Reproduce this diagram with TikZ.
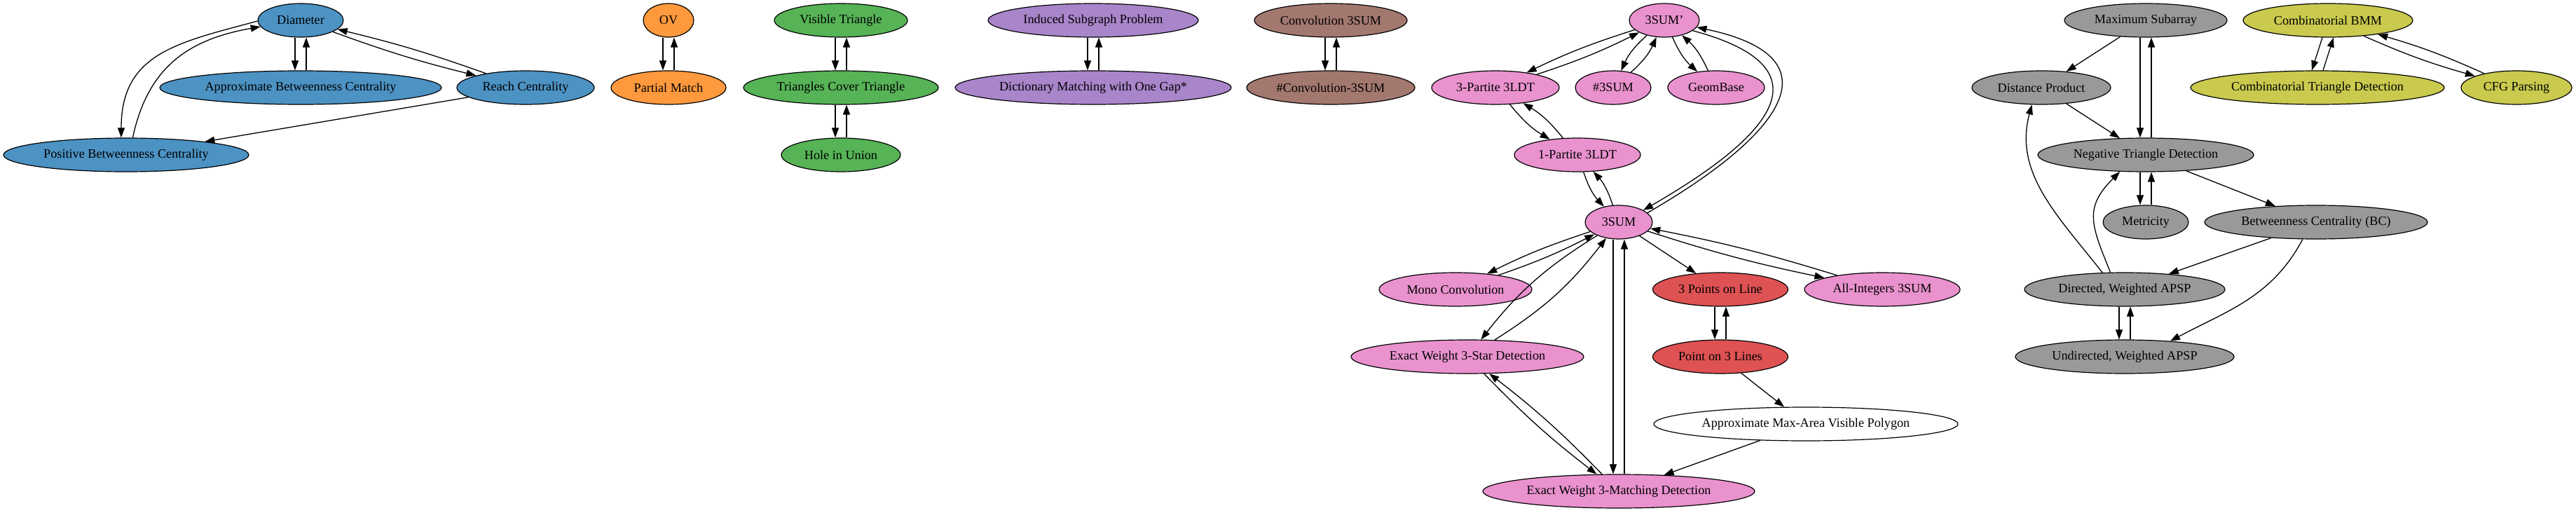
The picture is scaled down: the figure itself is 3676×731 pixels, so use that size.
\documentclass[tikz,border=0pt]{standalone}
\usepackage{fontspec}
\setmainfont{Liberation Serif}
\usetikzlibrary{shapes.geometric,arrows.meta}
\definecolor{gvblue}{HTML}{4C92C3}
\definecolor{gvorange}{HTML}{FF993E}
\definecolor{gvgreen}{HTML}{56B356}
\definecolor{gvred}{HTML}{DE5253}
\definecolor{gvpurple}{HTML}{A985CA}
\definecolor{gvbrown}{HTML}{A3786F}
\definecolor{gvpink}{HTML}{E992CE}
\definecolor{gvgray}{HTML}{999999}
\definecolor{gvolive}{HTML}{C9CA4E}

\begin{document}
\begin{tikzpicture}[x=1pt, y=1pt, >={Triangle[length=14pt,width=10pt]},
    prob/.style={ellipse, draw, line width=1.2pt, inner sep=0pt, minimum height=48pt,
                 font=\fontsize{18.2pt}{21pt}\selectfont},
    edge/.style={->, line width=1.3pt}]
    \useasboundingbox (0,0) rectangle (3676,-731);

    % blue group
    \node[prob, fill=gvblue, minimum width=122pt] (Diam) at (429,-29) {Diameter};
    \node[prob, fill=gvblue, minimum width=402pt] (ApxBC) at (429,-125) {Approximate Betweenness Centrality};
    \node[prob, fill=gvblue, minimum width=196pt] (Reach) at (750,-125) {Reach Centrality};
    \node[prob, fill=gvblue, minimum width=350pt] (PosBC) at (180,-221) {Positive Betweenness Centrality};

    \node[prob, fill=gvorange, minimum width=72pt] (OV) at (954,-29) {OV};
    \node[prob, fill=gvorange, minimum width=164pt] (PMatch) at (954,-125) {Partial Match};

    \node[prob, fill=gvgreen, minimum width=190pt] (VisTri) at (1200,-29) {Visible Triangle};
    \node[prob, fill=gvgreen, minimum width=278pt] (CovTri) at (1200,-125) {Triangles Cover Triangle};
    \node[prob, fill=gvgreen, minimum width=170pt] (Hole) at (1200,-221) {Hole in Union};

    \node[prob, fill=gvpurple, minimum width=300pt] (Induced) at (1560,-29) {Induced Subgraph Problem};
    \node[prob, fill=gvpurple, minimum width=394pt] (DictGap) at (1560,-125) {Dictionary Matching with One Gap*};

    \node[prob, fill=gvbrown, minimum width=218pt] (Conv) at (1899,-29) {Convolution 3SUM};
    \node[prob, fill=gvbrown, minimum width=240pt] (NumConv) at (1899,-125) {\#Convolution-3SUM};

    % 3SUM group
    \node[prob, fill=gvpink, minimum width=100pt] (SumP) at (2375,-29) {3SUM'};
    \node[prob, fill=gvpink, minimum width=182pt] (TriLDT) at (2134,-125) {3-Partite 3LDT};
    \node[prob, fill=gvpink, minimum width=108pt] (NumSum) at (2302,-125) {\#3SUM};
    \node[prob, fill=gvpink, minimum width=138pt] (Geom) at (2449,-125) {GeomBase};
    \node[prob, fill=gvpink, minimum width=180pt] (OneLDT) at (2251,-221) {1-Partite 3LDT};
    \node[prob, fill=gvpink, minimum width=96pt] (Sum) at (2310,-317) {3SUM};
    \node[prob, fill=gvpink, minimum width=218pt] (Mono) at (2077,-413) {Mono Convolution};
    \node[prob, fill=gvred, minimum width=193pt] (TPL) at (2455,-413) {3 Points on Line};
    \node[prob, fill=gvpink, minimum width=222pt] (AllInt) at (2686,-413) {All-Integers 3SUM};
    \node[prob, fill=gvpink, minimum width=332pt] (Star) at (2094,-509) {Exact Weight 3-Star Detection};
    \node[prob, fill=gvred, minimum width=193pt] (PL3) at (2455,-509) {Point on 3 Lines};
    \node[prob, minimum width=434pt] (MaxArea) at (2577,-605) {Approximate Max-Area Visible Polygon};
    \node[prob, fill=gvpink, minimum width=388pt] (Match) at (2310,-701) {Exact Weight 3-Matching Detection};

    % APSP group
    \node[prob, fill=gvgray, minimum width=232pt] (MaxSub) at (3062,-29) {Maximum Subarray};
    \node[prob, fill=gvgray, minimum width=198pt] (DistProd) at (2913,-125) {Distance Product};
    \node[prob, fill=gvgray, minimum width=308pt] (NegTri) at (3062,-221) {Negative Triangle Detection};
    \node[prob, fill=gvgray, minimum width=122pt] (Metric) at (3062,-317) {Metricity};
    \node[prob, fill=gvgray, minimum width=318pt] (BC) at (3305,-317) {Betweenness Centrality (BC)};
    \node[prob, fill=gvgray, minimum width=286pt] (DirAPSP) at (3032,-413) {Directed, Weighted APSP};
    \node[prob, fill=gvgray, minimum width=312pt] (UndAPSP) at (3032,-509) {Undirected, Weighted APSP};

    \node[prob, fill=gvolive, minimum width=242pt] (BMM) at (3322,-29) {Combinatorial BMM};
    \node[prob, fill=gvolive, minimum width=362pt] (CombTri) at (3307,-125) {Combinatorial Triangle Detection};
    \node[prob, fill=gvolive, minimum width=158pt] (CFG) at (3591,-125) {CFG Parsing};

    % reductions both ways, one rank apart
    \foreach \a/\b in {Diam/ApxBC, OV/PMatch, VisTri/CovTri, CovTri/Hole, Induced/DictGap,
                       Conv/NumConv, TPL/PL3, Sum/Match, MaxSub/NegTri, NegTri/Metric,
                       DirAPSP/UndAPSP, BMM/CombTri} {
        \draw[edge] ([xshift=-8pt]\a.south) -- ([xshift=-8pt]\b.north);
        \draw[edge] ([xshift=8pt]\b.north) -- ([xshift=8pt]\a.south);
    }
    \foreach \a/\b/\k in {Diam/Reach/3, SumP/TriLDT/4, SumP/NumSum/12, SumP/Geom/12,
                          TriLDT/OneLDT/10, OneLDT/Sum/12, Sum/Mono/4, Sum/Star/10,
                          Sum/AllInt/3, Star/Match/4, BMM/CFG/4} {
        \draw[edge] (\a) to[bend right=\k] (\b);
        \draw[edge] (\b) to[bend right=\k] (\a);
    }

    % one-way reductions
    \draw[edge] (Reach) -- (PosBC);
    \draw[edge] (Sum) -- (TPL);
    \draw[edge] (PL3) -- (MaxArea);
    \draw[edge] (MaxArea) -- (Match);
    \draw[edge] (MaxSub) -- (DistProd);
    \draw[edge] (DistProd) -- (NegTri);
    \draw[edge] (NegTri) -- (BC);
    \draw[edge] (BC) -- (DirAPSP);

    % curved ones
    \draw[edge] (Diam.181) to[out=195, in=90, looseness=1.2] (PosBC.106);
    \draw[edge] (PosBC.69) to[out=78, in=190, looseness=1.1] (Diam.189);
    \draw[edge] (Sum.18) to[out=30, in=-12, looseness=2] (SumP.-12);
    \draw[edge] (SumP.-20) to[out=-15, in=30, looseness=2] (Sum.26);
    \draw[edge] (DirAPSP.143) to[out=128, in=-105] (DistProd.241);
    \draw[edge] (DirAPSP.130) to[out=112, in=-135, looseness=1.3] (NegTri.213);
    \draw[edge] (BC.-128) to[out=-118, in=28] (UndAPSP.19);
\end{tikzpicture}
\end{document}
